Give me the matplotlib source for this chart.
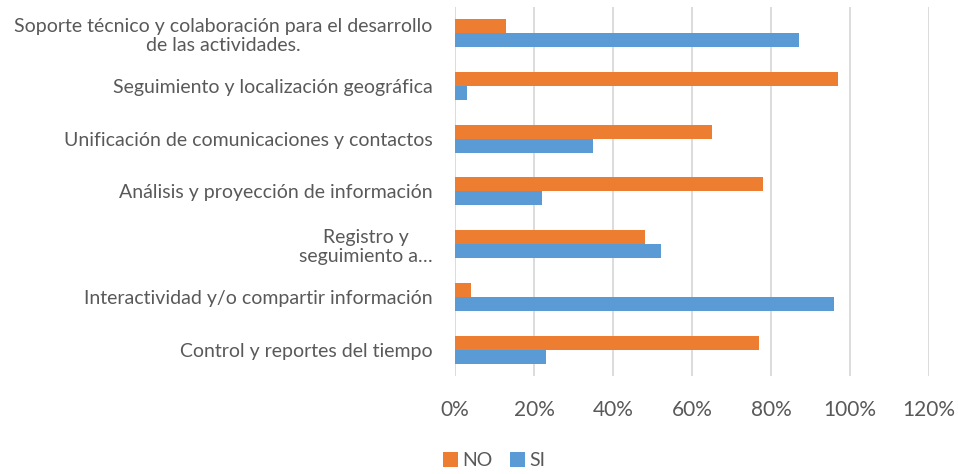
import matplotlib.pyplot as plt
import numpy as np

# categories from bottom to top, as the chart shows them
categorias = [
    "Control y reportes del tiempo",
    "Interactividad y/o compartir información",
    "Registro y\nseguimiento a…",
    "Análisis y proyección de información",
    "Unificación de comunicaciones y contactos",
    "Seguimiento y localización geográfica",
    "Soporte técnico y colaboración para el desarrollo\nde las actividades.",
]
si = [0.23, 0.96, 0.52, 0.22, 0.35, 0.03, 0.87]
no = [0.77, 0.04, 0.48, 0.78, 0.65, 0.97, 0.13]
x_ticks = [0, 0.2, 0.4, 0.6, 0.8, 1.0, 1.2]
x_labels = ["0%", "20%", "40%", "60%", "80%", "100%", "120%"]

plt.rcParams['font.family'] = ['Lato', 'DejaVu Sans']
gris = '#595959'

fig = plt.figure(figsize=(9.58, 4.74), dpi=100)
ax = fig.add_axes([0.475, 0.206, 0.495, 0.780])

y = np.arange(len(categorias))
h = 0.265
ax.barh(y - h / 2, si, height=h, color='#5B9BD5', label='SI', zorder=3)
ax.barh(y + h / 2, no, height=h, color='#ED7D31', label='NO', zorder=3)

ax.set_xlim(0, 1.2)
ax.set_ylim(-0.5, len(categorias) - 0.5)
ax.set_xticks(x_ticks)
ax.set_xticklabels(x_labels, fontsize=15, color=gris)
ax.set_yticks(y)
ax.set_yticklabels(categorias, fontsize=14, color=gris, multialignment='center',
                   linespacing=1.15)
ax.tick_params(axis='x', length=0, pad=17)
ax.tick_params(axis='y', length=0, pad=16)

ax.grid(axis='x', color='#D9D9D9', linewidth=1.3, zorder=0)
for s in ax.spines.values():
    s.set_visible(False)

handles, labels = ax.get_legend_handles_labels()
leg = fig.legend(handles[::-1], labels[::-1], loc='center', bbox_to_anchor=(0.516, 0.028),
                 ncol=2, frameon=False, fontsize=14, handlelength=0.75, handleheight=0.75,
                 columnspacing=0.9, handletextpad=0.25)
for t in leg.get_texts():
    t.set_color(gris)

fig.savefig('out.png', dpi=100)
